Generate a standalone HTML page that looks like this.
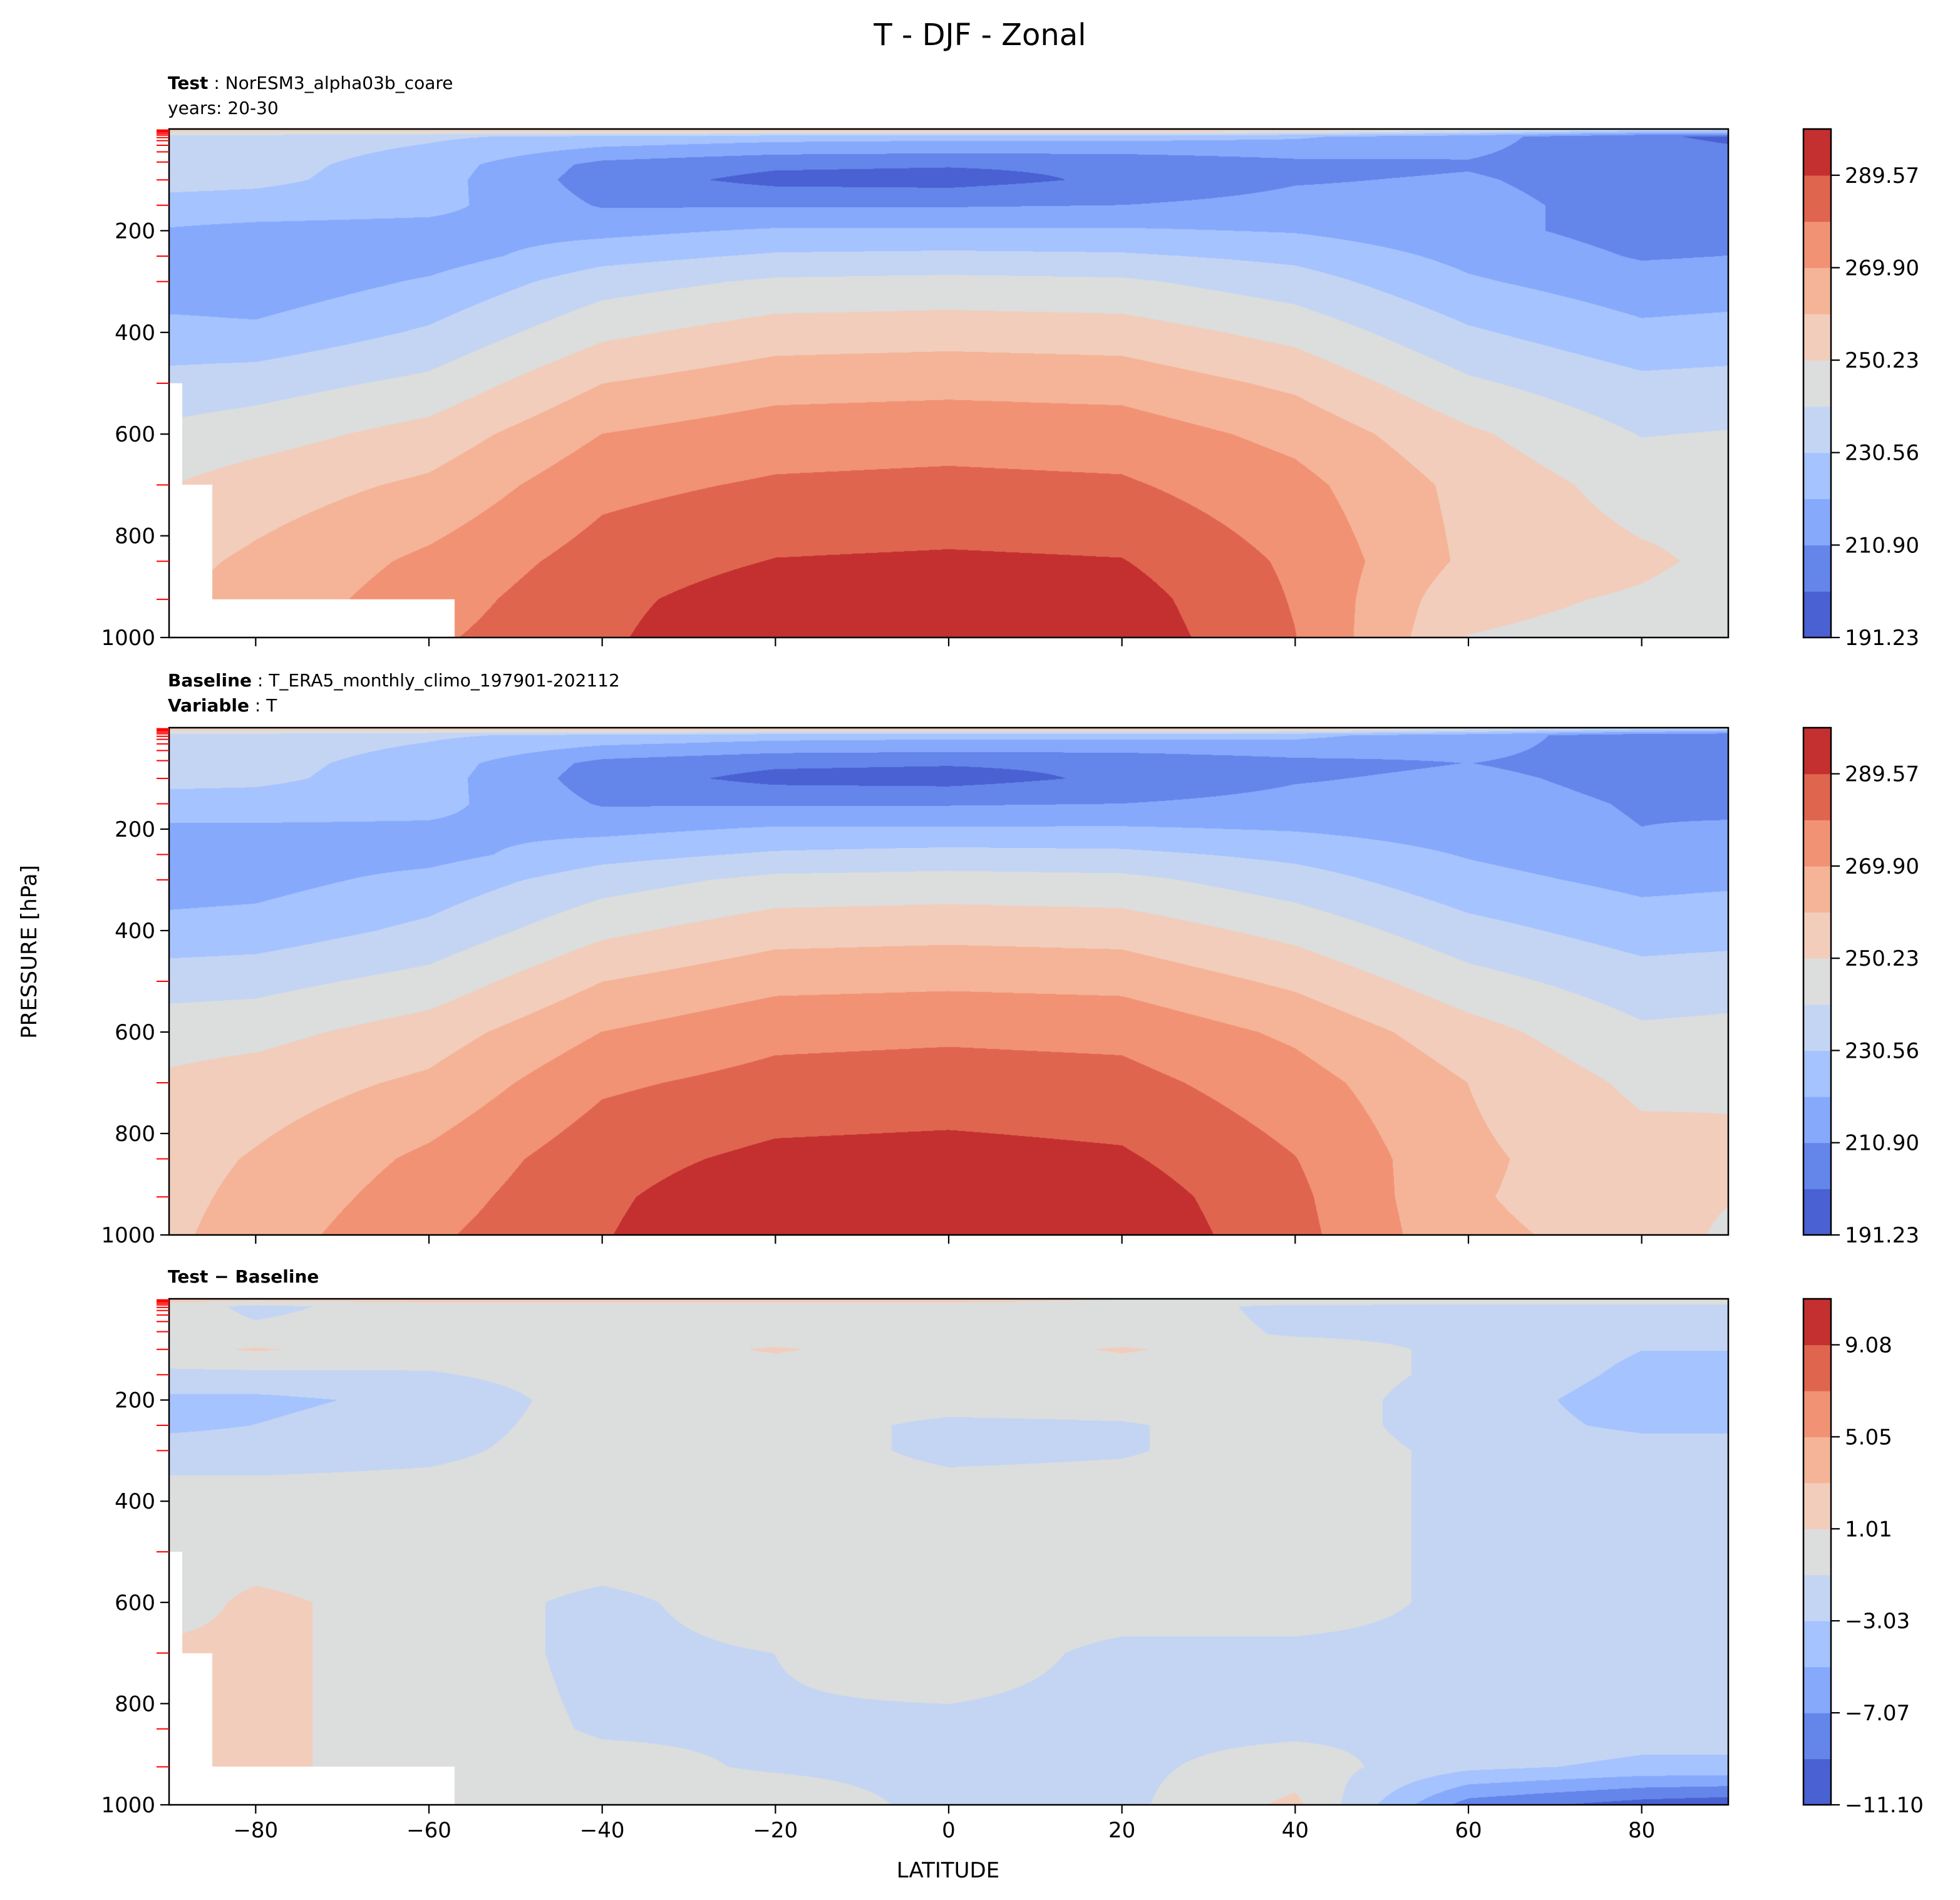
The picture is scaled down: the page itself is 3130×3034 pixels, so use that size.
<!DOCTYPE html>
<html><head><meta charset="utf-8">
<style>
html,body{margin:0;padding:0;background:#fff;}
#wrap{position:relative;width:3130px;height:3034px;overflow:hidden;font-family:"DejaVu Sans","Liberation Sans",sans-serif;}
canvas{position:absolute;}
svg{position:absolute;left:0;top:0;}
</style></head>
<body>
<div id="wrap">
<canvas id="c1" width="2490" height="812" style="left:270px;top:206px"></canvas>
<canvas id="c2" width="2490" height="810" style="left:270px;top:1162px"></canvas>
<canvas id="c3" width="2490" height="808" style="left:270px;top:2074px"></canvas>
<svg id="ov" width="3130" height="3034"></svg>
</div>
<script>
// ---- data ----
const lats = [-90,-80,-60,-40,-20,0,20,40,60,80,90];
const pres = [0,15,70,100,150,200,250,300,400,500,600,700,850,925,1000];
// test temperature (K), rows by latitude, columns by pressure
const testT = [
[258,236,236,235,226,220,214,215,224,234,243,250,257,260,262],
[258,236,234,233,226,218,213,214,223,236,246,255,262,264,266],
[260,232,226,225,224,217,216,222,232,243,254,262,272,275,278],
[262,228,208,206,210,218,227,236,248,260,270,277,284,287,288],
[264,225,203,198,210,222,232,242,255,266,275,281,290,295,298],
[264,224,202,197,210,222,233,243,256,267,276,282,291,296,299],
[263,224,203,203,211,222,232,242,255,266,275,281,290,294,296],
[260,222,208,210,214,220,228,235,247,258,267,273,278,279,280],
[250,215,210,212,214,214,218,222,232,242,252,257,258,253,250],
[240,202,205,206,207,207,210,215,223,233,240,246,252,249,247],
[238,200,204,205,206,208,211,216,224,234,241,247,248,246,245]];
// baseline temperature (K)
const baseT = [
[258,236,235,234,226,219,212,216,224,236,246,252,256,257,258],
[258,236,234,233,226,219,216,217,225,237,247,255,261,263,265],
[260,232,226,225,224,219,217,224,233,244,255,262,272,275,278],
[262,228,208,206,210,218,227,236,248,260,270,278,286,288,289],
[264,225,203,198,210,222,232,243,256,267,277,283,292,296,298],
[264,224,202,197,210,222,234,244,257,268,278,284,293,297,300],
[263,224,203,203,211,222,233,243,256,267,277,283,291,295,297],
[260,223,208,210,214,220,228,235,247,258,268,274,280,282,283],
[250,216,211,213,215,216,220,224,234,244,254,260,262,261,262],
[240,205,207,208,210,211,214,218,226,235,242,248,254,255,257],
[238,203,206,207,209,212,215,219,227,236,243,249,252,251,248]];
// difference (K)
const diffT = [
[2,0,0,0.5,-1.5,-3.5,-3.5,-2,0,0,0,1.5,1.5,1.5,1.5],
[2,-1.5,-0.5,1.2,-1.5,-3.5,-3,-2,0,0,1.5,1.5,1.5,1.5,1.5],
[2,0,0,0,-1.2,-2.5,-2,-1.5,0,0,0,0,0,0,0],
[2,0,0,0,0,0,0,0,0,0,-1.5,-1.5,-1.2,-0.5,0],
[2,0,0,1.2,0,0,0,0,0,0,0,-1,-1.2,-1.2,0],
[2,0,0,0,0,0,-1.5,-1.5,0,0,0,0,-1.5,-1.5,-1.5],
[1,0,0,1.2,0,0,-1.2,-1.2,0,0,0,-1.5,-1.5,-1.5,-1.5],
[1,-1.5,-1.2,0,0,0,0,0,0,0,0,-1.5,-1.5,0,1.5],
[0.5,-1.5,-1.5,-1.5,-1.5,-2,-2,-1.5,-1.5,-1.5,-1.5,-1.5,-1.2,-2.5,-8],
[0.5,-1.5,-2.5,-3,-3.5,-4,-3.5,-2,-1.5,-1.5,-1.5,-1.5,-2,-3.5,-10],
[0.5,-1.5,-3,-3,-3.5,-4,-3.5,-2,-1.5,-1.5,-1.5,-1.5,-2,-3.5,-10.5]];
const tempTicks = ["191.23","210.90","230.56","250.23","269.90","289.57"];
const diffTicks = ["\u221211.10","\u22127.07","\u22123.03","1.01","5.05","9.08"];
const xTicks = [-80,-60,-40,-20,0,20,40,60,80];
const yTicks = [200,400,600,800,1000];
const modelLevels = [2,4,6,9,12,17,23,32,45,65,100,150,250,300,500,700,850,925];
const colors = ['#4961d2','#6485ea','#86a9fc','#a5c3fe','#c4d5f3','#dcdddd','#f2cdbb','#f5b497','#f29274','#e0654f','#c3302f'];

const tempLo = 191.23, tempStep = 9.835;
const diffLo = -11.10, diffStep = 2.0185;
const X0 = 270, XW = 2490;
const panels = [{top:206,h:812},{top:1162,h:810},{top:2074,h:808}];
function xOf(lat){return X0 + (lat+90)/180*XW;}
function yOf(p,pi){return panels[pi].top + p/1000*panels[pi].h;}

function hex(c){return [parseInt(c.slice(1,3),16),parseInt(c.slice(3,5),16),parseInt(c.slice(5,7),16)];}
const rgb = colors.map(hex);
function seg(arr,v){let i=0;while(i<arr.length-2 && v>arr[i+1]) i++;return i;}
function masked(lat,p){return (lat<-88.5&&p>500)||(lat<-85&&p>700)||(lat<-57&&p>925);}
function draw(id,grid,lo,step,useMask){
  const cv=document.getElementById(id),ctx=cv.getContext('2d');
  const W=cv.width,H=cv.height,img=ctx.createImageData(W,H),d=img.data;
  for(let y=0;y<H;y++){
    const p=(y+0.5)/H*1000;const j=seg(pres,p);const tp=(p-pres[j])/(pres[j+1]-pres[j]);
    for(let x=0;x<W;x++){
      const lat=-90+(x+0.5)/W*180;const o=(y*W+x)*4;
      if(useMask&&masked(lat,p)){d[o]=d[o+1]=d[o+2]=255;d[o+3]=255;continue;}
      const i=seg(lats,lat);const tl=(lat-lats[i])/(lats[i+1]-lats[i]);
      const v=(grid[i][j]*(1-tp)+grid[i][j+1]*tp)*(1-tl)+(grid[i+1][j]*(1-tp)+grid[i+1][j+1]*tp)*tl;
      let k=Math.floor((v-lo)/step);k=Math.max(0,Math.min(10,k));
      d[o]=rgb[k][0];d[o+1]=rgb[k][1];d[o+2]=rgb[k][2];d[o+3]=255;
    }
  }
  ctx.putImageData(img,0,0);
}
draw('c1',testT,tempLo,tempStep,true);
draw('c2',baseT,tempLo,tempStep,false);
draw('c3',diffT,diffLo,diffStep,true);

// ---- overlay ----
const NS='http://www.w3.org/2000/svg';
const ov=document.getElementById('ov');
function el(tag,attrs,txt){const e=document.createElementNS(NS,tag);for(const k in attrs)e.setAttribute(k,attrs[k]);if(txt!==undefined)e.textContent=txt;ov.appendChild(e);return e;}

let t=el('text',{x:1565,y:72,'font-size':48,'text-anchor':'middle','font-family':'DejaVu Sans, Liberation Sans, sans-serif'},'T - DJF - Zonal');



function sub(x,y,bold,rest,name){
  const e=el('text',{x:x,y:y,'font-size':28,'font-family':'DejaVu Sans, Liberation Sans, sans-serif'});
  
  
  const b=document.createElementNS(NS,'tspan');b.setAttribute('font-weight','bold');b.textContent=bold;e.appendChild(b);
  if(rest){const r=document.createElementNS(NS,'tspan');r.textContent=rest;e.appendChild(r);}
}
sub(268,142,'Test',' : NorESM3_alpha03b_coare','test-case-label');
t=el('text',{x:268,y:182,'font-size':28,'font-family':'DejaVu Sans, Liberation Sans, sans-serif'},'years: 20-30');


sub(268,1096,'Baseline',' : T_ERA5_monthly_climo_197901-202112','baseline-case-label');
sub(268,1136,'Variable',' : T','variable-label');
sub(268,2048,'Test \u2212 Baseline','','difference-label');

panels.forEach((pn,pi)=>{
  const r=el('rect',{x:X0,y:pn.top,width:XW,height:pn.h,fill:'none',stroke:'#000','stroke-width':2.5});
  
  
  yTicks.forEach(v=>{
    const y=yOf(v,pi);
    const l=el('line',{x1:X0-14,x2:X0,y1:y,y2:y,stroke:'#000','stroke-width':2.2});
    
    
    const tx=el('text',{x:X0-22,y:y+12,'font-size':34,'text-anchor':'end','font-family':'DejaVu Sans, Liberation Sans, sans-serif'},String(v));
    
    
  });
  modelLevels.forEach(v=>{
    const y=yOf(v,pi);
    const l=el('line',{x1:X0-20,x2:X0,y1:y,y2:y,stroke:'#ff0000','stroke-width':2});
    
    
  });
  xTicks.forEach(v=>{
    const x=xOf(v);
    const l=el('line',{x1:x,x2:x,y1:pn.top+pn.h,y2:pn.top+pn.h+14,stroke:'#000','stroke-width':2.2});
    
    
    if(pi===2){
      const tx=el('text',{x:x,y:pn.top+pn.h+52,'font-size':34,'text-anchor':'middle','font-family':'DejaVu Sans, Liberation Sans, sans-serif'},v<0?'\u2212'+(-v):String(v));
      
      
    }
  });
  // colorbar
  const cbX=2880,cbW=44;
  for(let k=0;k<11;k++){
    const bh=pn.h/11;
    const rr=el('rect',{x:cbX,y:pn.top+pn.h-(k+1)*bh,width:cbW,height:bh+0.6,fill:colors[k]});
    
    
  }
  const cf=el('rect',{x:cbX,y:pn.top,width:cbW,height:pn.h,fill:'none',stroke:'#000','stroke-width':2.5});
  
  
  const labs=pi===2?diffTicks:tempTicks;
  labs.forEach((s,k)=>{
    const y=pn.top+pn.h-(2*k)*pn.h/11;
    const l=el('line',{x1:cbX+cbW,x2:cbX+cbW+14,y1:y,y2:y,stroke:'#000','stroke-width':2.2});
    
    
    const tx=el('text',{x:cbX+cbW+22,y:y+12,'font-size':34,'font-family':'DejaVu Sans, Liberation Sans, sans-serif'},s);
    
    
  });
});
t=el('text',{x:1514,y:2998,'font-size':34,'text-anchor':'middle','font-family':'DejaVu Sans, Liberation Sans, sans-serif'},'LATITUDE');


t=el('text',{x:58,y:1520,'font-size':34,'text-anchor':'middle','transform':'rotate(-90 58 1520)','font-family':'DejaVu Sans, Liberation Sans, sans-serif'},'PRESSURE [hPa]');


</script>
</body></html>
